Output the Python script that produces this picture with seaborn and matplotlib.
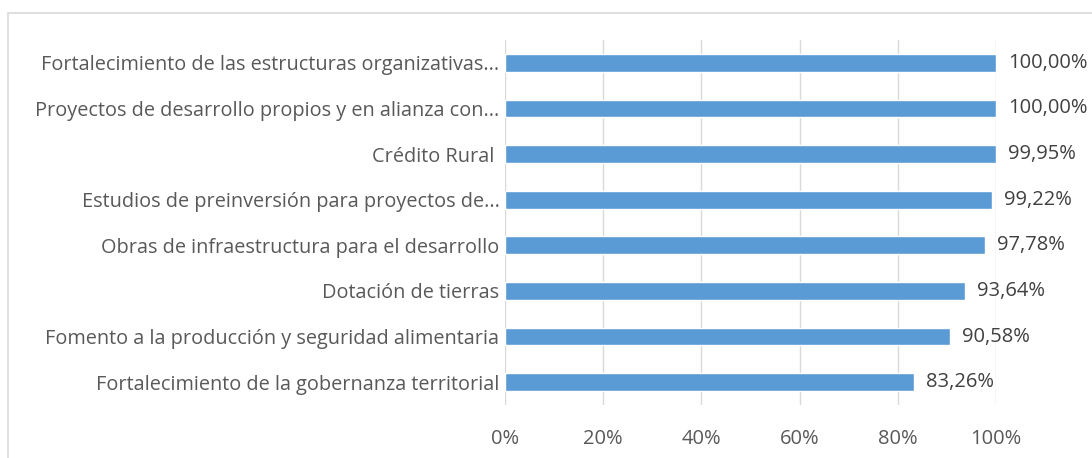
import matplotlib
matplotlib.use("Agg")
import matplotlib.pyplot as plt
import seaborn as sns
import pandas as pd
from matplotlib.patches import Rectangle

categories = [
    "Fortalecimiento de las estructuras organizativas...",
    "Proyectos de desarrollo propios y en alianza con...",
    "Crédito Rural ",
    "Estudios de preinversión para proyectos de...",
    "Obras de infraestructura para el desarrollo",
    "Dotación de tierras",
    "Fomento a la producción y seguridad alimentaria",
    "Fortalecimiento de la gobernanza territorial",
]
values = [100.00, 100.00, 99.95, 99.22, 97.78, 93.64, 90.58, 83.26]
xticks = [0, 20, 40, 60, 80, 100]
xtick_labels = ["0%", "20%", "40%", "60%", "80%", "100%"]

df = pd.DataFrame({"cat": categories, "val": values})

sns.set_theme(style="white")
plt.rcParams["font.family"] = ["Open Sans", "DejaVu Sans"]

fig = plt.figure(figsize=(10.92, 4.58), dpi=100)
ax = fig.add_axes([505 / 1092, 1 - 405 / 458, (996 - 505) / 1092, (405 - 40) / 458])

sns.barplot(data=df, x="val", y="cat", orient="h", color="#5B9BD5",
            saturation=1, width=0.39, ax=ax, zorder=3)

ax.set_xlim(0, 100)
ax.set_ylim(7.5, -0.5)
ax.set_xticks(xticks)
ax.set_xticklabels(xtick_labels)
ax.grid(axis="x", color="#d9d9d9", linewidth=1, zorder=0)
ax.grid(axis="y", visible=False)
for s in ax.spines.values():
    s.set_visible(False)
ax.set_xlabel("")
ax.set_ylabel("")
ax.tick_params(axis="x", length=0, pad=17, labelsize=14.5, labelcolor="#595959")
ax.tick_params(axis="y", length=0, pad=4, labelsize=14.3, labelcolor="#595959")

for i, v in enumerate(values):
    ax.text(v + 2.4, i, f"{v:.2f}%".replace(".", ","), va="center", ha="left",
            fontsize=14.5, color="#404040")

fig.patches.append(Rectangle((8 / 1092, -0.1), 1.2, 1 - 13 / 458 + 0.1,
                             transform=fig.transFigure, fill=False,
                             edgecolor="#d9d9d9", linewidth=1.2))

fig.savefig("out.png", dpi=100)
